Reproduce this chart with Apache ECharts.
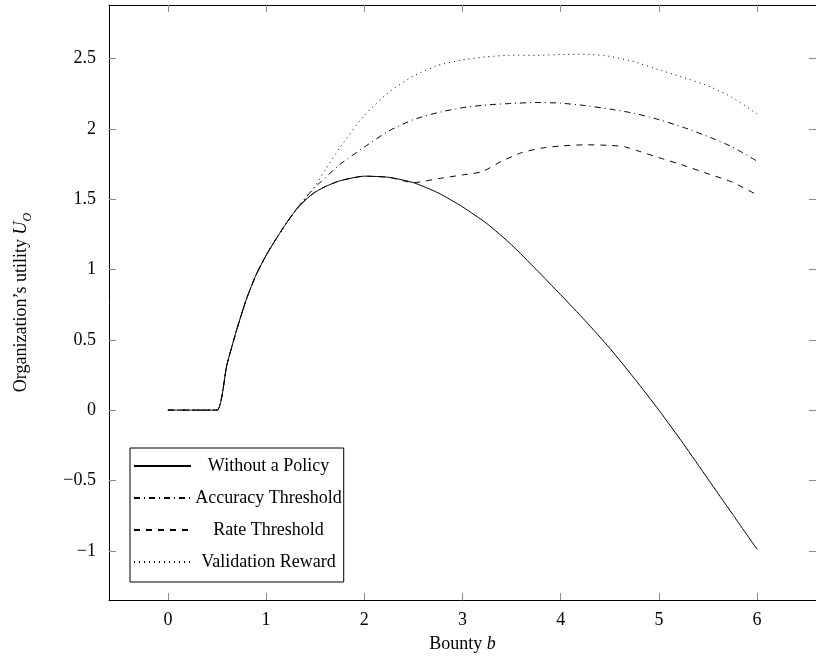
<!DOCTYPE html>
<html>
<head>
<meta charset="utf-8">
<script src="https://cdn.jsdelivr.net/npm/echarts@6/dist/echarts.min.js"></script>
<style>html,body{margin:0;padding:0;background:#fff;}#c{width:816px;height:667px;}</style>
</head>
<body>
<div id="c"></div>
<script>
// ---- data ----
const seriesNames = ['Without a Policy', 'Accuracy Threshold', 'Rate Threshold', 'Validation Reward'];

const bWithout = [0, 0.25, 0.5, 0.6, 0.7, 0.8, 0.9, 1.0, 1.1, 1.2, 1.3, 1.4, 1.5, 1.6, 1.75, 2.0, 2.25, 2.5, 2.75, 3.0, 3.25, 3.5, 3.75, 4.0, 4.25, 4.5, 4.75, 5.0, 5.25, 5.5, 5.75, 6.0];
const uWithout = [0, 0, 0, 0.32, 0.57, 0.79, 0.965, 1.10, 1.215, 1.323, 1.42, 1.494, 1.55, 1.588, 1.63, 1.663, 1.655, 1.617, 1.545, 1.445, 1.325, 1.175, 1.0, 0.82, 0.635, 0.44, 0.225, 0.0, -0.24, -0.49, -0.74, -0.99];

const bAccuracy = [0, 0.25, 0.5, 0.6, 0.7, 0.8, 0.9, 1.0, 1.1, 1.2, 1.3, 1.4, 1.5, 1.75, 2.0, 2.25, 2.5, 2.75, 3.0, 3.25, 3.5, 3.75, 4.0, 4.25, 4.5, 4.75, 5.0, 5.25, 5.5, 5.75, 6.0];
const uAccuracy = [0, 0, 0, 0.32, 0.57, 0.79, 0.965, 1.10, 1.215, 1.323, 1.42, 1.51, 1.585, 1.745, 1.87, 1.985, 2.065, 2.115, 2.15, 2.17, 2.18, 2.187, 2.182, 2.165, 2.14, 2.11, 2.065, 2.01, 1.945, 1.87, 1.77];

const bRate = [0, 0.25, 0.5, 0.6, 0.7, 0.8, 0.9, 1.0, 1.1, 1.2, 1.3, 1.4, 1.5, 1.6, 1.75, 2.0, 2.25, 2.5, 2.75, 3.0, 3.2, 3.4, 3.6, 3.8, 4.0, 4.25, 4.5, 4.65, 4.8, 5.0, 5.25, 5.5, 5.75, 6.0];
const uRate = [0, 0, 0, 0.32, 0.57, 0.79, 0.965, 1.10, 1.215, 1.323, 1.42, 1.494, 1.55, 1.588, 1.63, 1.663, 1.655, 1.617, 1.645, 1.672, 1.695, 1.77, 1.83, 1.862, 1.878, 1.886, 1.882, 1.872, 1.84, 1.795, 1.74, 1.68, 1.62, 1.53];

const bValidation = [0, 0.25, 0.5, 0.6, 0.7, 0.8, 0.9, 1.0, 1.1, 1.2, 1.3, 1.4, 1.5, 1.6, 1.75, 2.0, 2.25, 2.5, 2.75, 3.0, 3.25, 3.5, 3.75, 4.0, 4.25, 4.5, 4.75, 5.0, 5.25, 5.5, 5.75, 6.0];
const uValidation = [0, 0, 0, 0.32, 0.57, 0.79, 0.965, 1.10, 1.215, 1.323, 1.42, 1.505, 1.595, 1.705, 1.865, 2.095, 2.26, 2.375, 2.45, 2.49, 2.512, 2.523, 2.522, 2.528, 2.53, 2.515, 2.476, 2.42, 2.365, 2.305, 2.222, 2.105];

const xTicks = [0, 1, 2, 3, 4, 5, 6];
const yTicks = [-1, -0.5, 0, 0.5, 1, 1.5, 2, 2.5];

// ---- chart ----
const FONT = 'Liberation Serif';
const zip = (xs, ys) => xs.map((x, i) => [x, ys[i]]);
const fmt = v => String(v).replace('-', '\u2212');

const tickStyle = { inside: true, length: 7, lineStyle: { color: '#8a8a8a', width: 1 } };
const XMIN = -0.6, XMAX = 6.6, YMIN = -1.35, YMAX = 2.88;

function mkSeries(name, data, type) {
  return {
    name, type: 'line', data, symbol: 'none', showSymbol: false, smooth: 0.2,
    lineStyle: { color: '#000', width: 1, type: type },
    itemStyle: { color: '#000' },
    emphasis: { disabled: true }, animation: false
  };
}

const chart = echarts.init(document.getElementById('c'), null, { renderer: 'canvas' });
chart.setOption({
  animation: false,
  backgroundColor: '#fff',
  textStyle: { fontFamily: FONT },
  grid: { left: 109, top: 5, width: 710, height: 595, show: false },
  xAxis: [
    {
      type: 'value', min: XMIN, max: XMAX, position: 'bottom',
      axisLine: { show: true, onZero: false, lineStyle: { color: '#000', width: 1 } },
      axisTick: Object.assign({ customValues: xTicks }, tickStyle),
      axisLabel: { customValues: xTicks, formatter: fmt, fontFamily: FONT, fontSize: 18, color: '#000', margin: 11 },
      splitLine: { show: false },
      name: '{a|Bounty }{i|b}', nameLocation: 'middle', nameGap: 35,
      nameTextStyle: { rich: { a: { fontFamily: FONT, fontSize: 18, color: '#000' }, i: { fontFamily: FONT, fontSize: 18, fontStyle: 'italic', color: '#000' } } }
    },
    {
      type: 'value', min: XMIN, max: XMAX, position: 'top',
      axisLine: { show: true, onZero: false, lineStyle: { color: '#000', width: 1 } },
      axisTick: Object.assign({ customValues: xTicks }, tickStyle),
      axisLabel: { show: false }, splitLine: { show: false }
    }
  ],
  yAxis: [
    {
      type: 'value', min: YMIN, max: YMAX, position: 'left',
      axisLine: { show: true, onZero: false, lineStyle: { color: '#000', width: 1 } },
      axisTick: Object.assign({ customValues: yTicks }, tickStyle),
      axisLabel: { customValues: yTicks, formatter: fmt, fontFamily: FONT, fontSize: 18, color: '#000', margin: 13 },
      splitLine: { show: false },
      name: '{a|Organization\u2019s utility }{i|U}{s|O}', nameLocation: 'middle', nameGap: 75,
      nameTextStyle: { rich: {
        a: { fontFamily: FONT, fontSize: 18, color: '#000', lineHeight: 26, verticalAlign: 'middle' },
        i: { fontFamily: FONT, fontSize: 18, fontStyle: 'italic', color: '#000', lineHeight: 26, verticalAlign: 'middle' },
        s: { fontFamily: FONT, fontSize: 12, fontStyle: 'italic', color: '#000', lineHeight: 12, verticalAlign: 'bottom' }
      } }
    },
    {
      type: 'value', min: YMIN, max: YMAX, position: 'right',
      axisLine: { show: true, onZero: false, lineStyle: { color: '#000', width: 1 } },
      axisTick: Object.assign({ customValues: yTicks }, tickStyle),
      axisLabel: { show: false }, splitLine: { show: false }
    }
  ],
  legend: {
    orient: 'vertical', left: 130, top: 448,
    backgroundColor: '#fff', borderColor: '#000', borderWidth: 1,
    padding: [8, 2, 10, 3], itemGap: 12, itemWidth: 57, itemHeight: 14,
    itemStyle: { opacity: 0 },
    selectedMode: false, data: seriesNames,
    formatter: '{t|{name}}',
    textStyle: { fontFamily: FONT, fontSize: 18, color: '#000', lineHeight: 20,
      rich: { t: { width: 145, align: 'center', fontFamily: FONT, fontSize: 18, color: '#000', lineHeight: 20 } } }
  },
  series: [
    mkSeries(seriesNames[0], zip(bWithout, uWithout), 'solid'),
    mkSeries(seriesNames[1], zip(bAccuracy, uAccuracy), [6, 4, 1, 4]),
    mkSeries(seriesNames[2], zip(bRate, uRate), [6, 6]),
    mkSeries(seriesNames[3], zip(bValidation, uValidation), [1, 4])
  ]
});
</script>
</body>
</html>
